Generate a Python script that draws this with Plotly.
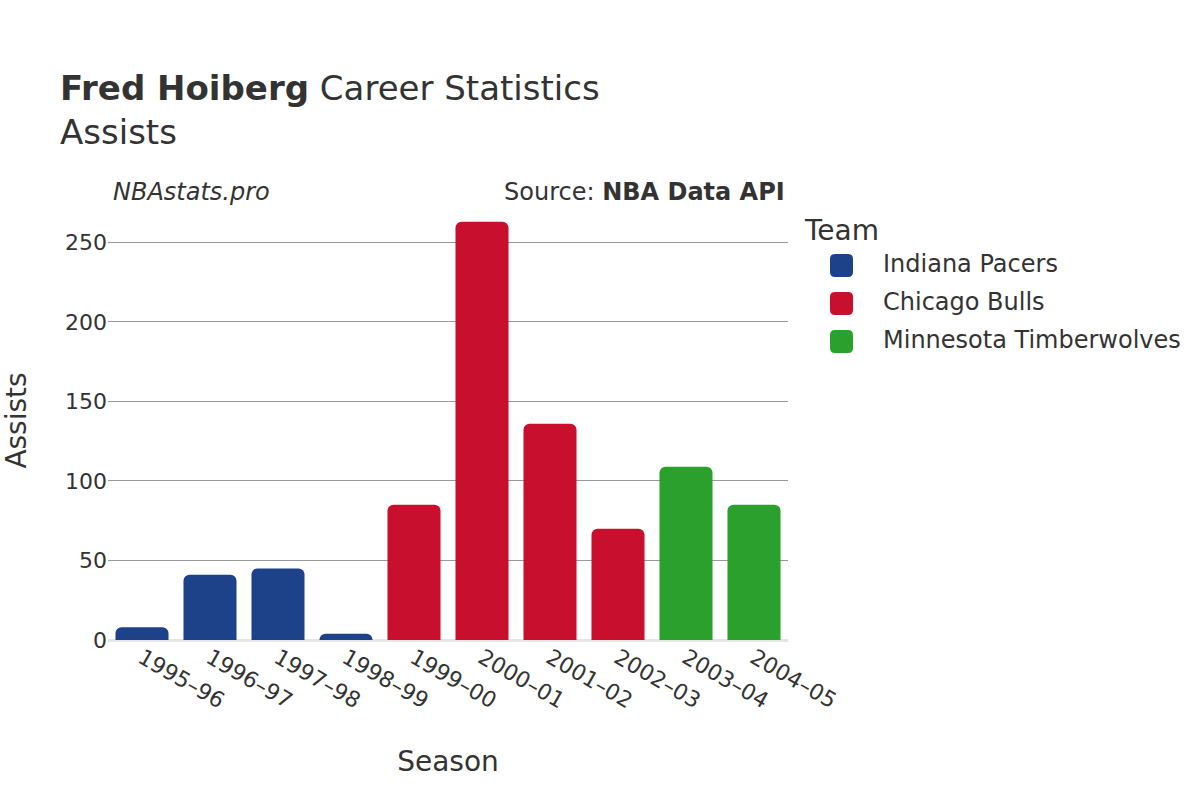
import plotly.graph_objects as go

seasons = ["1995–96", "1996–97", "1997–98", "1998–99", "1999–00",
           "2000–01", "2001–02", "2002–03", "2003–04", "2004–05"]
teams = ["Indiana Pacers", "Indiana Pacers", "Indiana Pacers", "Indiana Pacers",
         "Chicago Bulls", "Chicago Bulls", "Chicago Bulls", "Chicago Bulls",
         "Minnesota Timberwolves", "Minnesota Timberwolves"]
assists = [8, 41, 45, 4, 85, 263, 136, 70, 109, 85]

team_order = ["Indiana Pacers", "Chicago Bulls", "Minnesota Timberwolves"]
team_colors = {"Indiana Pacers": "#1D428A", "Chicago Bulls": "#C8102E",
               "Minnesota Timberwolves": "#2CA02C"}

FONT = "DejaVu Sans"
W, H = 1200, 800
L, R, T, B = 108, 412, 201, 160
PW, PH = W - L - R, H - T - B


def px_x(px):
    return (px - L) / PW


def px_y(py):
    return (H - B - py) / PH


def rounded_square(cx, cy, side, r):
    h = side / 2
    x0, x1, y0, y1 = cx - h, cx + h, cy - h, cy + h
    pts = [
        ("M", x0 + r, y0), ("L", x1 - r, y0), ("Q", x1, y0, x1, y0 + r),
        ("L", x1, y1 - r), ("Q", x1, y1, x1 - r, y1), ("L", x0 + r, y1),
        ("Q", x0, y1, x0, y1 - r), ("L", x0, y0 + r), ("Q", x0, y0, x0 + r, y0),
    ]
    out = []
    for p in pts:
        cmd, coords = p[0], p[1:]
        s = []
        for i in range(0, len(coords), 2):
            s.append(f"{px_x(coords[i]):.5f},{px_y(coords[i + 1]):.5f}")
        out.append(cmd + " ".join(s))
    return " ".join(out) + " Z"


fig = go.Figure()
for t in team_order:
    xs = [s for s, tm in zip(seasons, teams) if tm == t]
    ys = [a for a, tm in zip(assists, teams) if tm == t]
    fig.add_trace(go.Bar(x=xs, y=ys, name=t, marker_color=team_colors[t],
                         marker_line_width=0, legendgroup=t))

legend_shapes = []
for i, t in enumerate(team_order):
    legend_shapes.append(dict(type="path", xref="paper", yref="paper",
                              path=rounded_square(841.5, 265.5 + 38 * i, 23, 5),
                              fillcolor=team_colors[t], line=dict(width=0),
                              layer="above"))

fig.update_layout(
    width=W, height=H,
    paper_bgcolor="white", plot_bgcolor="white",
    font=dict(family=FONT, size=22, color="#333333"),
    title=dict(text="<b>Fred Hoiberg</b> Career Statistics<br>Assists",
               x=0.05, xanchor="left", y=0.875, yanchor="top",
               font=dict(size=34, color="#333333")),
    margin=dict(l=L, r=R, t=T, b=B, autoexpand=False),
    bargap=0.22, barcornerradius=6,
    legend=dict(title=dict(text="Team", font=dict(size=28)),
                x=1.0 + 15 / PW, xanchor="left", y=1.0 - 3 / PH, yanchor="top",
                bgcolor="rgba(0,0,0,0)",
                font=dict(size=24), tracegroupgap=4, itemwidth=70),
    xaxis=dict(title=dict(text="Season", font=dict(size=28), standoff=39),
               tickangle=30, categoryorder="array", categoryarray=seasons,
               showgrid=False, ticks="", automargin=False),
    yaxis=dict(title=dict(text="Assists", font=dict(size=28), standoff=30),
               range=[0, 276], showgrid=True, gridcolor="#999999", gridwidth=1,
               zeroline=True, zerolinecolor="#e5e5e5", zerolinewidth=3,
               tickvals=[0, 50, 100, 150, 200, 250], ticks="", automargin=False),
    shapes=legend_shapes,
    annotations=[
        dict(text="<i>NBAstats.pro</i>", x=3 / PW, y=1 + 9 / PH, xref="paper", yref="paper",
             xanchor="left", yanchor="middle", showarrow=False, font=dict(size=24)),
        dict(text="Source: <b>NBA Data API</b>", x=1 - 1 / PW, y=1 + 9 / PH,
             xref="paper", yref="paper",
             xanchor="right", yanchor="middle", showarrow=False, font=dict(size=24)),
    ],
)
fig.write_html("out.html", config={"displayModeBar": False},
               post_script="document.body.style.margin='0px';")
